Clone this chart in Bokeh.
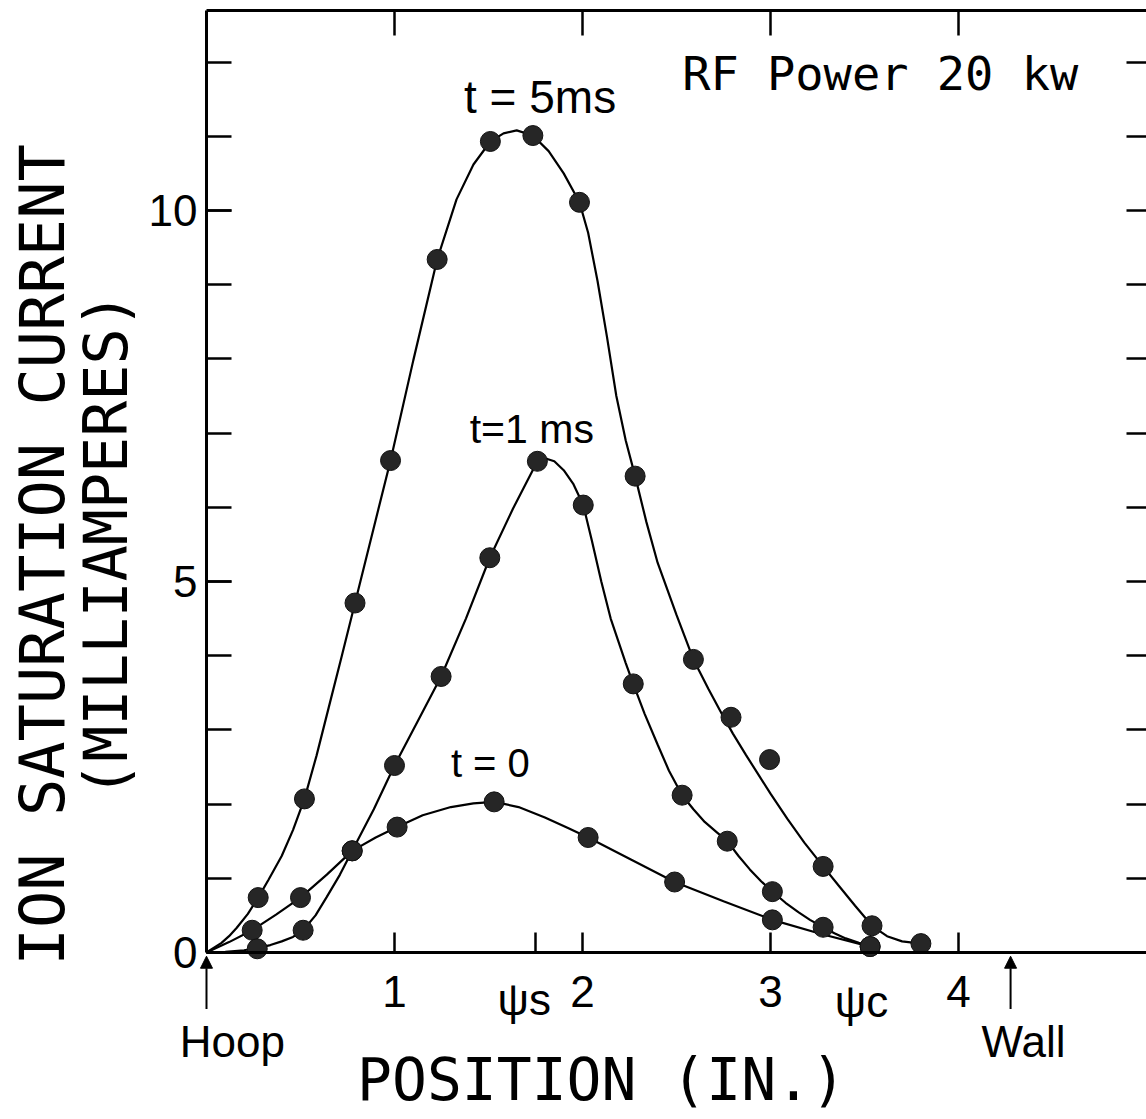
from bokeh.plotting import figure
from bokeh.models import Range1d, LinearAxis, FixedTicker, Label, Arrow, NormalHead
from bokeh.embed import file_html
from bokeh.resources import INLINE

# Probe position from the hoop (inches) and ion saturation current (mA)
x_t0 = [0.243, 0.50, 0.775, 1.014, 1.53, 2.03, 2.49, 3.01, 3.53]
y_t0 = [0.30, 0.74, 1.37, 1.69, 2.03, 1.55, 0.95, 0.44, 0.08]

x_t1 = [0.27, 0.514, 0.775, 1.0, 1.248, 1.507, 1.76, 2.004, 2.27, 2.53, 2.77, 3.01, 3.28, 3.53]
y_t1 = [0.05, 0.30, 1.37, 2.52, 3.72, 5.32, 6.62, 6.03, 3.62, 2.12, 1.50, 0.82, 0.34, 0.08]

x_t5 = [0.275, 0.521, 0.79, 0.979, 1.227, 1.51, 1.736, 1.984, 2.28, 2.59, 2.79, 2.995, 3.28, 3.54, 3.80]
y_t5 = [0.74, 2.07, 4.71, 6.63, 9.34, 10.93, 11.01, 10.11, 6.42, 3.95, 3.17, 2.60, 1.16, 0.36, 0.12]

# Hand-drawn fitted profiles, traced point by point
fit_t0_x = [0.0, 0.12, 0.243, 0.37, 0.50, 0.64, 0.775, 0.90, 1.014, 1.15, 1.30, 1.42, 1.53,
            1.66, 1.80, 1.92, 2.03, 2.26, 2.49, 2.75, 3.01, 3.27, 3.53]
fit_t0_y = [0.0, 0.14, 0.30, 0.51, 0.74, 1.05, 1.37, 1.55, 1.69, 1.85, 1.96, 2.01, 2.03,
            1.96, 1.82, 1.68, 1.55, 1.25, 0.95, 0.69, 0.44, 0.25, 0.08]

fit_t1_x = [0.0, 0.10, 0.20, 0.27, 0.34, 0.40, 0.46, 0.514, 0.58, 0.64, 0.71, 0.775, 0.89, 1.0,
            1.12, 1.248, 1.38, 1.507, 1.63, 1.76, 1.80, 1.85, 1.90, 1.95, 2.004, 2.05, 2.10,
            2.15, 2.19, 2.23, 2.27, 2.33, 2.40, 2.46, 2.53, 2.59, 2.65, 2.71, 2.77, 2.83, 2.89,
            2.95, 3.01, 3.08, 3.15, 3.21, 3.28, 3.34, 3.40, 3.47, 3.53]
fit_t1_y = [0.0, 0.01, 0.03, 0.06, 0.10, 0.15, 0.21, 0.30, 0.50, 0.75, 1.05, 1.37, 1.93, 2.52,
            3.10, 3.72, 4.50, 5.32, 5.98, 6.62, 6.66, 6.62, 6.50, 6.32, 6.03, 5.55, 5.00,
            4.50, 4.20, 3.90, 3.62, 3.22, 2.80, 2.45, 2.12, 1.93, 1.76, 1.63, 1.50, 1.30, 1.12,
            0.96, 0.82, 0.67, 0.54, 0.44, 0.34, 0.26, 0.19, 0.13, 0.08]

fit_t5_x = [0.0, 0.08, 0.12, 0.16, 0.22, 0.275, 0.33, 0.40, 0.46, 0.521, 0.585, 0.65, 0.72,
            0.79, 0.90, 0.979, 1.10, 1.227, 1.33, 1.42, 1.51, 1.58, 1.65, 1.736, 1.82, 1.90,
            1.984, 2.03, 2.08, 2.13, 2.18, 2.23, 2.28, 2.34, 2.40, 2.50, 2.59, 2.67, 2.74,
            2.80, 2.87, 2.94, 3.00, 3.09, 3.18, 3.28, 3.36, 3.45, 3.54, 3.62, 3.70, 3.80]
fit_t5_y = [0.0, 0.13, 0.22, 0.33, 0.52, 0.74, 0.98, 1.30, 1.65, 2.07, 2.65, 3.30, 4.00,
            4.71, 5.83, 6.63, 7.98, 9.34, 10.15, 10.62, 10.93, 11.04, 11.08, 11.01, 10.80, 10.50,
            10.11, 9.70, 9.05, 8.30, 7.50, 6.90, 6.42, 5.80, 5.25, 4.55, 3.95, 3.55, 3.22,
            2.95, 2.66, 2.38, 2.14, 1.80, 1.48, 1.16, 0.91, 0.63, 0.36, 0.22, 0.15, 0.12]

x_ticks = [1, 2, 3, 4]
x_minor = [1.75]
y_ticks = [0, 5, 10]
y_minor = list(range(0, 13))

X_MAX = 5.0
Y_TOP = 12.695          # top edge of the drawn box

SANS = "Liberation Sans"
MONO = "DejaVu Sans Mono"

p = figure(width=1146, height=1119,
           x_range=Range1d(-1.0957, X_MAX), y_range=Range1d(-2.2507, 12.830),
           output_backend="svg", toolbar_location=None,
           min_border=0, min_border_left=0, min_border_right=0,
           min_border_top=0, min_border_bottom=0)
p.outline_line_color = None
p.grid.visible = False
p.background_fill_color = "white"
p.border_fill_color = "white"

# bottom axis, drawn along zero current
xa = p.xaxis[0]
xa.fixed_location = 0
xa.bounds = (0, X_MAX)
xa.ticker = FixedTicker(ticks=x_ticks, minor_ticks=x_minor)
xa.major_tick_in = 20
xa.major_tick_out = 0
xa.minor_tick_in = 20
xa.minor_tick_out = 0
xa.axis_line_width = 3
xa.major_tick_line_width = 2.5
xa.minor_tick_line_width = 2.5
xa.major_label_text_font = SANS
xa.major_label_text_font_size = "44px"
xa.major_label_text_color = "black"
xa.major_label_standoff = 24

# left axis, drawn at the hoop
ya = p.yaxis[0]
ya.fixed_location = 0
ya.bounds = (0, Y_TOP)
ya.ticker = FixedTicker(ticks=y_ticks, minor_ticks=y_minor)
ya.major_tick_in = 25
ya.major_tick_out = 0
ya.minor_tick_in = 25
ya.minor_tick_out = 0
ya.axis_line_width = 3
ya.major_tick_line_width = 2.5
ya.minor_tick_line_width = 2.5
ya.major_label_text_font = SANS
ya.major_label_text_font_size = "44px"
ya.major_label_text_color = "black"
ya.major_label_standoff = 9
ya.major_label_orientation = "horizontal"

# top and right edges of the box, ticks only
top = LinearAxis(fixed_location=Y_TOP, bounds=(0, X_MAX),
                 ticker=FixedTicker(ticks=[1, 2, 3, 4]), major_tick_in=25, major_tick_out=0,
                 minor_tick_in=0, minor_tick_out=0, axis_line_width=3,
                 major_tick_line_width=2.5, major_label_text_color=None)
p.add_layout(top, "above")
right = LinearAxis(fixed_location=X_MAX, bounds=(0, Y_TOP),
                   ticker=FixedTicker(ticks=list(range(1, 13))), major_tick_in=20,
                   major_tick_out=0, minor_tick_in=0, minor_tick_out=0,
                   axis_line_color=None, major_tick_line_width=2.5,
                   major_label_text_color=None)
p.add_layout(right, "right")

# fitted curves
for fx, fy in [(fit_t0_x, fit_t0_y), (fit_t1_x, fit_t1_y), (fit_t5_x, fit_t5_y)]:
    p.line(fx, fy, line_width=2.2, line_color="black")

# measured points
for mx, my in [(x_t0, y_t0), (x_t1, y_t1), (x_t5, y_t5)]:
    p.scatter(mx, my, size=20, fill_color="#262626", line_color="#111111", line_width=1)


def lab(x, y, text, font=SANS, size="44px", align="left", angle=0):
    p.add_layout(Label(x=x, y=y, text=text, text_font=font, text_font_size=size,
                       text_align=align, text_baseline="middle", angle=angle,
                       angle_units="deg", text_color="black"))


# curve labels
lab(1.37, 11.536, "t = 5ms", size="46px")
lab(1.40, 7.055, "t=1 ms", size="41px")
lab(1.30, 2.554, "t = 0", size="40px")
lab(2.53, 11.846, "RF Power 20 kw", font=MONO, size="47px")

# special positions along the axis
lab(1.69, -0.633, "\u03c8s", size="44px", align="center")
lab(3.484, -0.66, "\u03c8c", size="44px", align="center")
lab(0.138, -1.20, "Hoop", size="44px", align="center")
lab(4.346, -1.20, "Wall", size="44px", align="center")

for xpos in [0.0, 4.277]:
    p.add_layout(Arrow(end=NormalHead(size=12, fill_color="black", line_color="black"),
                       x_start=xpos, y_start=-0.76, x_end=xpos, y_end=-0.05,
                       line_width=2, line_color="black"))

# axis titles
lab(2.101, -1.725, "POSITION (IN.)", font=MONO, size="58px", align="center")
lab(-0.872, 5.36, "ION SATURATION CURRENT", font=MONO, size="62px", align="center", angle=90)
lab(-0.537, 5.49, "(MILLIAMPERES)", font=MONO, size="60px", align="center", angle=90)

open("out.html", "w").write(file_html(p, INLINE))
